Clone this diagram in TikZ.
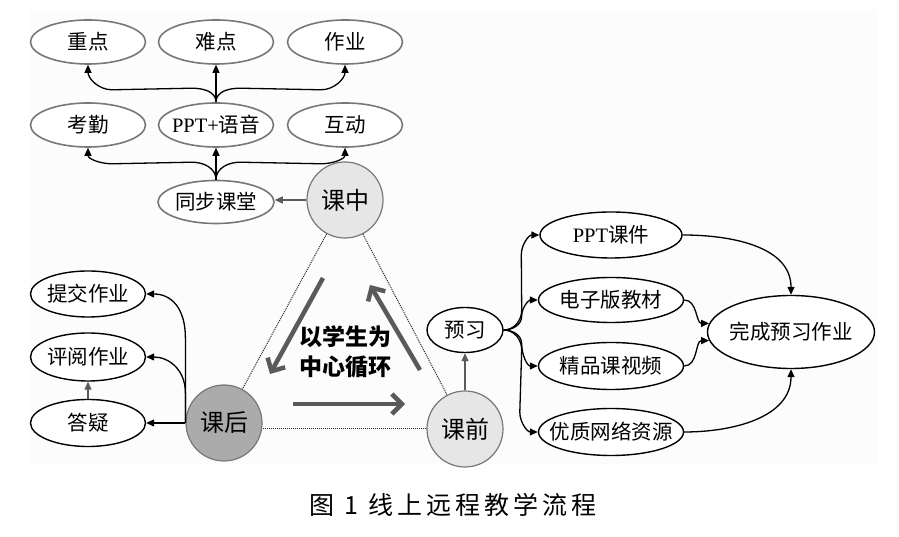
\documentclass[tikz,border=0pt]{standalone}
\usepackage{fontspec}
\setmainfont{Noto Sans CJK SC}
\newfontfamily\latin{Liberation Serif}
\newfontfamily\capfont[LetterSpace=16]{Noto Sans CJK SC}
\usetikzlibrary{arrows.meta,shapes.geometric,calc}
\definecolor{bgc}{HTML}{FCFCFC}
\definecolor{edgegray}{HTML}{777777}
\definecolor{arrgray}{HTML}{5A5A5A}
\definecolor{cfill}{HTML}{E6E6E6}
\definecolor{cdark}{HTML}{ABABAB}
\newcommand{\zb}[1]{\makebox[0pt][c]{#1}}
\begin{document}
\begin{tikzpicture}[x=1pt,y=1pt,
  el/.style={ellipse, inner sep=0pt, minimum width=115pt, minimum height=44pt,
             font=\fontsize{20.5}{24}\selectfont, fill=white},
  elg/.style={el, draw=edgegray, line width=1.6pt},
  elb/.style={el, draw=black, line width=1.4pt},
  circ/.style={circle, draw=edgegray, line width=1.2pt, minimum size=76pt,
               inner sep=0pt, font=\fontsize{24}{28}\selectfont},
  arr/.style={draw=black, line width=1.3pt, -{Triangle[length=8pt,width=7pt]}},
  garr/.style={draw=arrgray, line width=1.3pt, -{Triangle[length=8pt,width=7pt]}},
  bigarr/.style={draw=arrgray, line width=4.5pt, -{Straight Barb[length=10pt,width=20pt]}},
  dline/.style={densely dotted, line width=1pt, draw=black!85}
]
\useasboundingbox (0,0) rectangle (899,537);
\fill[bgc] (30,72) rectangle (877,527);

% top rows
\node[elg] (zd) at (88,495) {\zb{重点}};
\node[elg] (nd) at (216,495) {\zb{难点}};
\node[elg] (zy) at (345,495) {\zb{作业}};
\node[elg] (kq) at (88,412) {\zb{考勤}};
\node[elg] (ppt) at (216,412) {\zb{{\latin PPT+}语音}};
\node[elg] (hd) at (345,412) {\zb{互动}};
\node[elg, minimum width=116pt, minimum height=43pt] (tb) at (216,335) {\zb{同步课堂}};

% circles
\node[circ, fill=cfill] (kz) at (345,337) {课中};
\node[circ, fill=cdark] (kh) at (224,114) {课后};
\node[circ, fill=cfill] (kqn) at (465,108) {课前};

% left
\node[elb, minimum height=46pt] (tj) at (88,243) {\zb{提交作业}};
\node[elb, minimum height=48pt] (py) at (88,180) {\zb{评阅作业}};
\node[elb, minimum height=47pt] (dy) at (88,114) {\zb{答疑}};

% right
\node[elb, minimum width=76pt, minimum height=45pt] (yx) at (465,207) {\zb{预习}};
\node[elb, minimum width=142pt, minimum height=46pt] (p1) at (611,302) {\zb{{\latin PPT}课件}};
\node[elb, minimum width=145pt, minimum height=45pt] (p2) at (611,237) {\zb{电子版教材}};
\node[elb, minimum width=145pt, minimum height=47pt] (p3) at (611,171) {\zb{精品课视频}};
\node[elb, minimum width=145pt, minimum height=47pt] (p4) at (611,105) {\zb{优质网络资源}};
\node[elb, minimum width=167pt, minimum height=73pt] (wc) at (791,205) {\zb{完成预习作业}};

% centre text
\node[font=\fontsize{23}{30}\selectfont\bfseries, align=center] (ctr) at (345,185) {以学生为\\中心循环};

% dotted triangle
\draw[dline] (kz) -- (kh);
\draw[dline] (kz) -- (kqn);
\draw[dline] (kqn.west) -- (kqn.west -| kh.east);

% thick cycle arrows
\coordinate (a1s) at (323,259); \coordinate (a1e) at (270,163);
\coordinate (a2s) at (420,167); \coordinate (a2e) at (370,252);
\coordinate (a3s) at (293,133); \coordinate (a3e) at (405,133);
\draw[bigarr] (a1s) -- (a1e);
\draw[bigarr] (a2s) -- (a2e);
\draw[bigarr] (a3s) -- (a3e);

% in-class branches
\draw[garr] (kz.west) -- (kz.west -| tb.east);
\draw[arr] (tb.north) -- (ppt.south);
\draw[arr] (tb.north) to[out=90,in=0] ($(tb.north)+(-24,17.5)$)
   -- ($(kq.south)+(24,-16)$) to[out=180,in=-90] (kq.south);
\draw[arr] (tb.north) to[out=90,in=180] ($(tb.north)+(24,17.5)$)
   -- ($(hd.south)+(-24,-16)$) to[out=0,in=-90] (hd.south);
\draw[arr] (ppt.north) -- (nd.south);
\draw[arr] (ppt.north) to[out=90,in=0] ($(ppt.north)+(-24,14)$)
   -- ($(zd.south)+(24,-25)$) to[out=180,in=-90] (zd.south);
\draw[arr] (ppt.north) to[out=90,in=180] ($(ppt.north)+(24,14)$)
   -- ($(zy.south)+(-24,-25)$) to[out=0,in=-90] (zy.south);

% after-class branches
\draw[arr] (kh.west) -- (dy.east);
\draw[garr] (dy.north) -- (py.south);
\draw[arr] (kh.west) -- ++(0,85) .. controls +(0,30) and +(25,0) .. (tj.east);
\draw[arr] (kh.west) -- ++(0,30) .. controls +(0,24) and +(22,0) .. (py.east);

% pre-class branches
\draw[garr] (kqn.north) -- (yx.south);
\draw[arr] (yx.east) to[out=0,in=-90] ($(yx.east)+(18,20)$)
   -- ($(p1.west)+(-18,-20)$) to[out=90,in=180] (p1.west);
\draw[arr] (yx.east) to[out=0,in=-90] ($(yx.east)+(18,14)$)
   to[out=90,in=180] (p2.west);
\draw[arr] (yx.east) to[out=0,in=90] ($(yx.east)+(18,-14)$)
   to[out=-90,in=180] (p3.west);
\draw[arr] (yx.east) to[out=0,in=90] ($(yx.east)+(18,-20)$)
   -- ($(p4.west)+(-18,20)$) to[out=-90,in=180] (p4.west);

\draw[arr] (p1.east) to[out=0,in=90] (wc.north);
\draw[arr] (p2.east) to[out=0,in=180] (wc.174);
\draw[arr] (p3.east) to[out=0,in=180] (wc.186);
\draw[arr] (p4.east) to[out=0,in=-90] (wc.south);

% caption
\node[font=\fontsize{25}{30}\selectfont\capfont] (cap) at (453,32) {图 1 线上远程教学流程};
\end{tikzpicture}
\end{document}
